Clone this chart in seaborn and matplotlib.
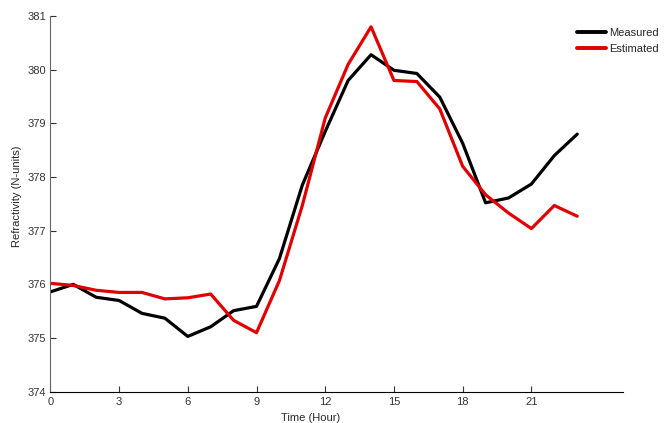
import matplotlib
matplotlib.use("Agg")
import matplotlib.pyplot as plt
import pandas as pd
import seaborn as sns

# ─── data ─────────────────────────────────────────────────────────────────────
hours = list(range(24))
measured = [375.86, 376.00, 375.76, 375.70, 375.46, 375.37, 375.03, 375.21,
            375.51, 375.59, 376.48, 377.85, 378.85, 379.80, 380.28, 379.99,
            379.93, 379.49, 378.63, 377.52, 377.61, 377.87, 378.40, 378.80]
estimated = [376.02, 375.98, 375.89, 375.85, 375.85, 375.73, 375.75, 375.82,
             375.33, 375.10, 376.07, 377.47, 379.10, 380.10, 380.80, 379.80,
             379.78, 379.27, 378.20, 377.67, 377.33, 377.04, 377.47, 377.27]
x_ticks = [0, 3, 6, 9, 12, 15, 18, 21]
y_ticks = [374, 375, 376, 377, 378, 379, 380, 381]

df = pd.DataFrame({
    "hour": hours * 2,
    "value": measured + estimated,
    "series": ["Measured"] * 24 + ["Estimated"] * 24,
})

# ─── style ────────────────────────────────────────────────────────────────────
sns.set_style("ticks")
plt.rcParams["font.family"] = ["Liberation Sans", "DejaVu Sans"]

fig = plt.figure(figsize=(6.64, 4.23), dpi=100)
ax = fig.add_axes([0.0758, 0.074, 0.8625, 0.888])

sns.lineplot(data=df, x="hour", y="value", hue="series", ax=ax,
             palette={"Measured": "black", "Estimated": "#e00000"},
             linewidth=2.3, legend=False)

ax.set_xlim(0, 25)
ax.set_ylim(374, 381)
ax.set_xticks(x_ticks)
ax.set_yticks(y_ticks)
ax.tick_params(direction="in", length=4, labelsize=8, colors="#333333")
ax.tick_params(axis="y", pad=3)
ax.spines["top"].set_visible(False)
ax.spines["right"].set_visible(False)
ax.spines["left"].set_color("#666666")
ax.spines["bottom"].set_color("black")

ax.set_xlabel("Time (Hour)", fontsize=8)
ax.set_ylabel("Refractivity (N-units)", fontsize=8)
ax.xaxis.set_label_coords(0.455, -0.058)
ax.yaxis.set_label_coords(-0.05, 0.52)

handles = [plt.Line2D([], [], color="black", lw=2.8),
           plt.Line2D([], [], color="#e00000", lw=2.8)]
fig.legend(handles, ["Measured", "Estimated"], loc="upper left",
           bbox_to_anchor=(0.862, 0.945), frameon=False, fontsize=8,
           handlelength=2.6, handletextpad=0.3, labelspacing=0.55,
           borderaxespad=0)

fig.savefig("out.png", dpi=100)
